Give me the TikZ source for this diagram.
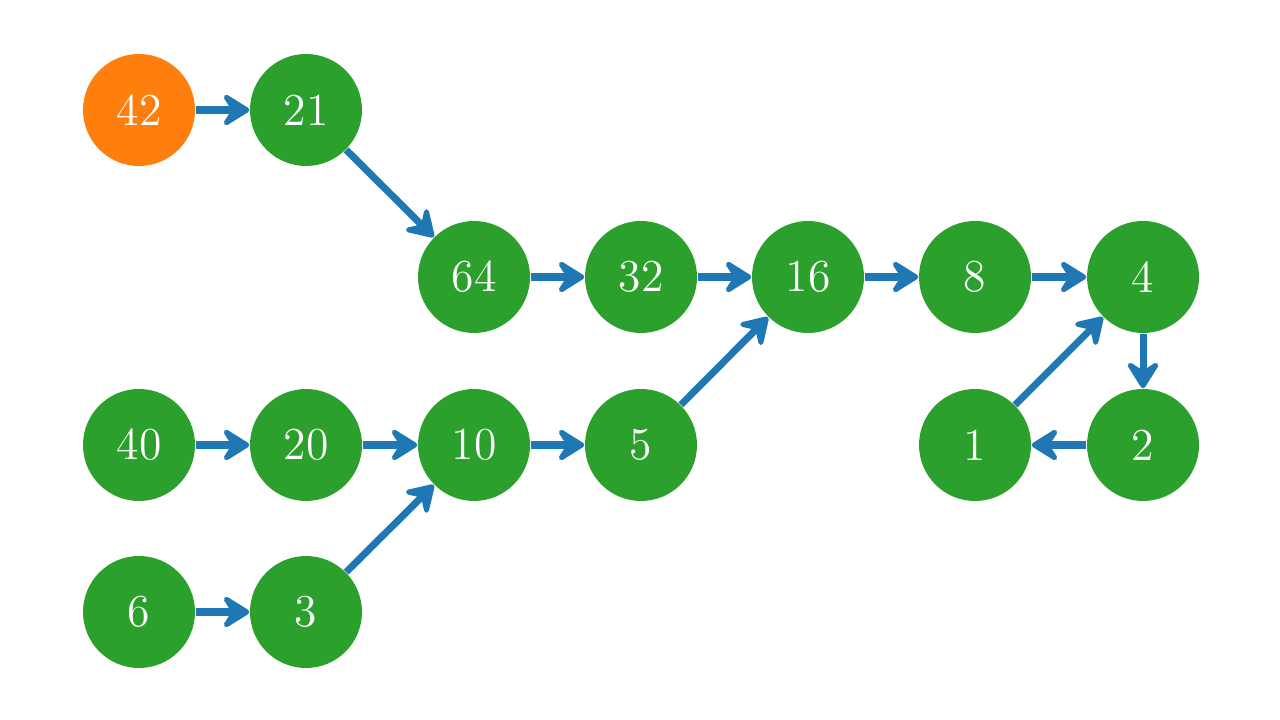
\documentclass[tikz,border=0pt]{standalone}
\usetikzlibrary{arrows.meta}
\definecolor{tabgreen}{HTML}{2CA02C}
\definecolor{taborange}{HTML}{FF7F0E}
\definecolor{tabblue}{HTML}{1F77B4}
\tikzset{
  num/.style={circle, fill=tabgreen, text=white, minimum size=1.12cm, inner sep=0pt,
    font=\fontsize{13}{15}\selectfont},
  start/.style={num, fill=taborange},
  link/.style={-{Stealth[length=3.3mm, width=4.1mm, inset=1.3mm, round]}, line width=2pt,
    tabblue},
}

\begin{document}
\begin{tikzpicture}[y=-1cm]
  \useasboundingbox (0,0) rectangle (12.8,7.2);
  % top chain
  \node[start] (n42) at (1.39,1.10) {42};
  \node[num] (n21) at (3.06,1.10) {21};
  % middle row
  \node[num] (n64) at (4.74,2.77) {64};
  \node[num] (n32) at (6.41,2.77) {32};
  \node[num] (n16) at (8.08,2.77) {16};
  \node[num] (n8) at (9.75,2.77) {8};
  \node[num] (n4) at (11.43,2.77) {4};
  % lower row
  \node[num] (n40) at (1.39,4.45) {40};
  \node[num] (n20) at (3.06,4.45) {20};
  \node[num] (n10) at (4.74,4.45) {10};
  \node[num] (n5) at (6.41,4.45) {5};
  \node[num] (n1) at (9.75,4.45) {1};
  \node[num] (n2) at (11.43,4.45) {2};
  % bottom row
  \node[num] (n6) at (1.39,6.12) {6};
  \node[num] (n3) at (3.06,6.12) {3};
  % steps
  \foreach \a/\b in {n42/n21, n21/n64, n64/n32, n32/n16, n16/n8, n8/n4, n4/n2, n2/n1, n1/n4,
    n40/n20, n20/n10, n10/n5, n5/n16, n6/n3, n3/n10}
    \draw[link] (\a) -- (\b);
\end{tikzpicture}
\end{document}
